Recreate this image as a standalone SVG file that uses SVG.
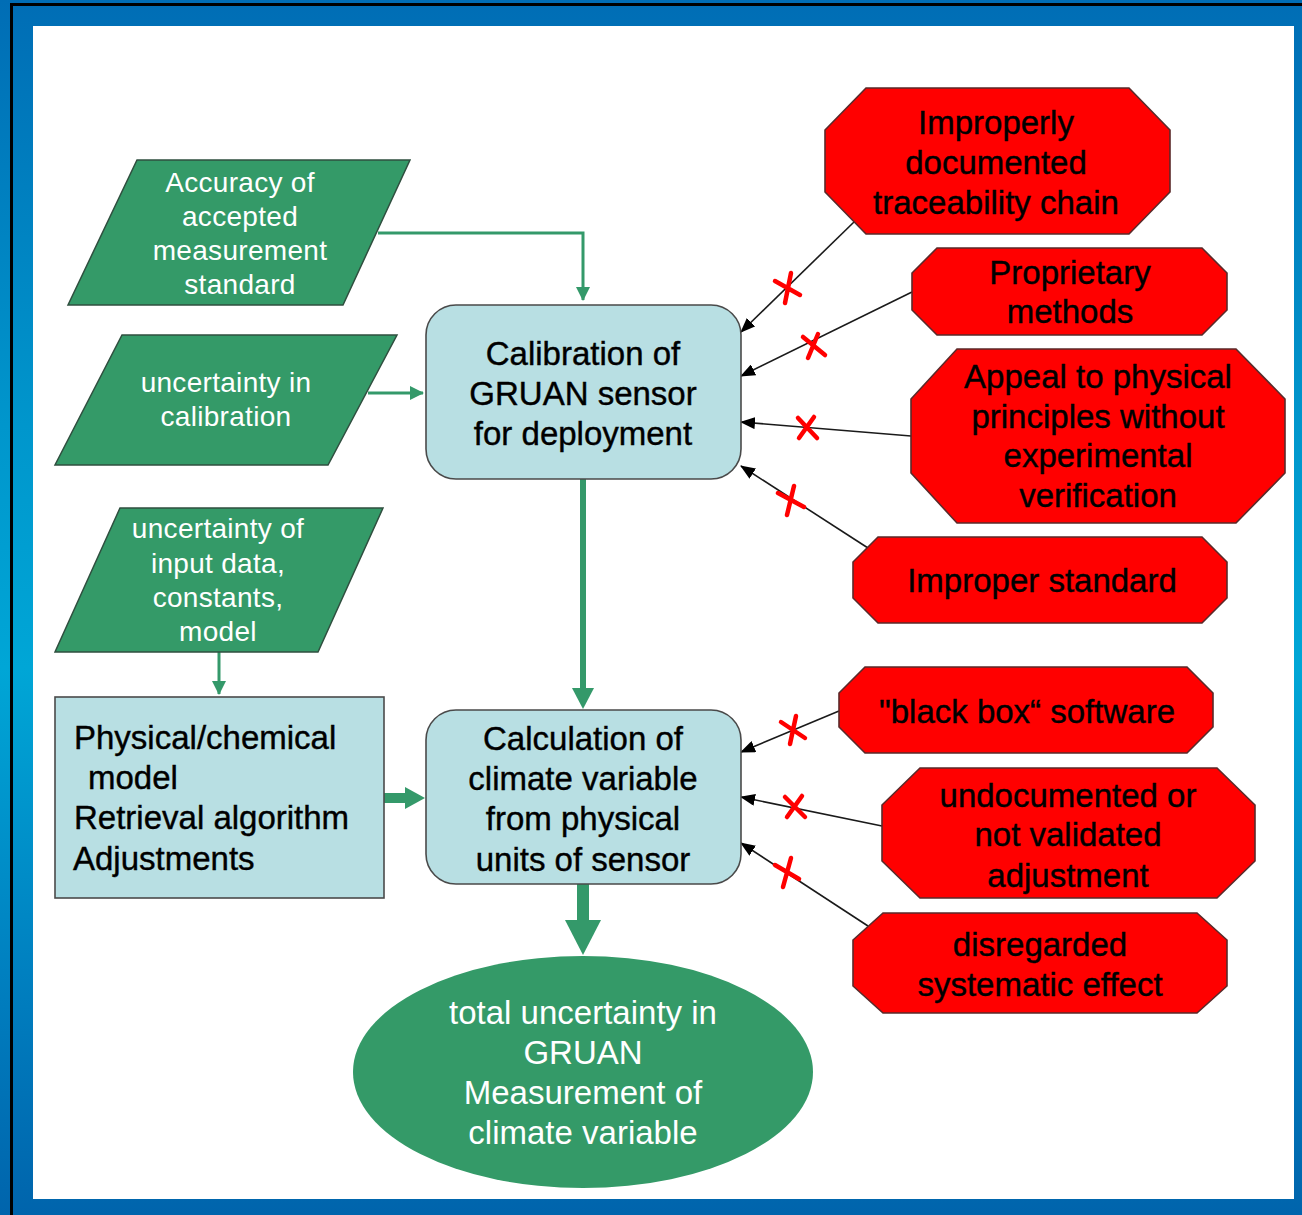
<svg xmlns="http://www.w3.org/2000/svg" width="1302" height="1215" viewBox="0 0 1302 1215">
<defs>
<linearGradient id="bg" x1="0" y1="0" x2="0" y2="1">
<stop offset="0" stop-color="#006db5"/>
<stop offset="0.35" stop-color="#0096cc"/>
<stop offset="0.55" stop-color="#00a6d6"/>
<stop offset="0.8" stop-color="#0080c0"/>
<stop offset="1" stop-color="#0064ac"/>
</linearGradient>
<marker id="ab" markerUnits="userSpaceOnUse" markerWidth="15" markerHeight="12" refX="14" refY="6" orient="auto">
<path d="M0,0 L15,6 L0,12 Z" fill="#000"/>
</marker>
<marker id="ag" markerUnits="userSpaceOnUse" markerWidth="14" markerHeight="14" refX="13" refY="7" orient="auto">
<path d="M0,0 L14,7 L0,14 Z" fill="#34996a"/>
</marker>
</defs>
<style>
.para{fill:#349a68;stroke:#2f4f3f;stroke-width:1.5}
.box{fill:#b8dfe3;stroke:#4a4a4a;stroke-width:1.6}
.oct{fill:#ff0000;stroke:#5a2a2a;stroke-width:1.6}
.wt{font-family:"Liberation Sans",Arial,sans-serif;font-size:28px;fill:#fff;text-anchor:middle;letter-spacing:0.3px}
.bt{font-family:"Liberation Sans",Arial,sans-serif;font-size:33px;fill:#000;stroke:#000;stroke-width:0.4;text-anchor:middle}
.bl{font-family:"Liberation Sans",Arial,sans-serif;font-size:33px;fill:#000;stroke:#000;stroke-width:0.4}
.et{font-family:"Liberation Sans",Arial,sans-serif;font-size:33px;fill:#fff;text-anchor:middle}
.gl{stroke:#34996a;stroke-width:3;fill:none}
.kl{stroke:#1a1a1a;stroke-width:1.6;fill:none}
.x{stroke:#ff0000;stroke-width:4.5;fill:none;stroke-linecap:round}
</style>
<rect x="0" y="0" width="1302" height="1215" fill="url(#bg)"/>
<rect x="10" y="3" width="1292" height="3" fill="#000"/>
<rect x="10" y="3" width="3" height="1212" fill="#000"/>
<rect x="33" y="26" width="1261" height="1173" fill="#fff"/>

<g id="connectors">
<polyline class="gl" points="378,233 583,233 583,300" marker-end="url(#ag)"/>
<line class="gl" x1="368" y1="393" x2="423" y2="393" marker-end="url(#ag)"/>
<line class="gl" x1="219" y1="652" x2="219" y2="694" marker-end="url(#ag)"/>
<line x1="583" y1="479" x2="583" y2="690" stroke="#34996a" stroke-width="6"/>
<polygon points="572,688 594,688 583,709" fill="#34996a"/>
<line x1="384" y1="798" x2="407" y2="798" stroke="#34996a" stroke-width="10"/>
<polygon points="405,787 425,798 405,809" fill="#34996a"/>
<line x1="583" y1="884" x2="583" y2="922" stroke="#34996a" stroke-width="12"/>
<polygon points="565,920 601,920 583,955" fill="#34996a"/>
<line class="kl" x1="854" y1="222" x2="741" y2="332" marker-end="url(#ab)"/>
<line class="kl" x1="912" y1="292" x2="741" y2="376" marker-end="url(#ab)"/>
<line class="kl" x1="911" y1="436" x2="741" y2="422" marker-end="url(#ab)"/>
<line class="kl" x1="868" y1="548" x2="741" y2="466" marker-end="url(#ab)"/>
<line class="kl" x1="839" y1="711" x2="741" y2="752" marker-end="url(#ab)"/>
<line class="kl" x1="882" y1="826" x2="741" y2="797" marker-end="url(#ab)"/>
<line class="kl" x1="868" y1="926" x2="741" y2="843" marker-end="url(#ab)"/>
<g id="crosses">
<path class="x" d="M775,281 L800,295 M785,303 L791,273"/>
<path class="x" d="M803,337 L825,355 M808,358 L818,334"/>
<path class="x" d="M798,418 L817,438 M799,438 L814,417"/>
<path class="x" d="M778,493 L804,507 M787,515 L794,486"/>
<path class="x" d="M781,722 L805,738 M790,744 L796,716"/>
<path class="x" d="M785,797 L805,817 M787,817 L802,796"/>
<path class="x" d="M775,865 L799,879 M783,887 L791,858"/>
</g>
</g>

<g id="accuracy">
<polygon class="para" points="137,160 410,160 343,305 68,305"/>
<text class="wt" x="240" y="192">Accuracy of</text>
<text class="wt" x="240" y="226">accepted</text>
<text class="wt" x="240" y="260">measurement</text>
<text class="wt" x="240" y="294">standard</text>
</g>
<g id="unc-calibration">
<polygon class="para" points="122,335 397,335 328,465 55,465"/>
<text class="wt" x="226" y="392">uncertainty in</text>
<text class="wt" x="226" y="426">calibration</text>
</g>
<g id="unc-input">
<polygon class="para" points="120,508 383,508 318,652 55,652"/>
<text class="wt" x="218" y="538">uncertainty of</text>
<text class="wt" x="218" y="573">input data,</text>
<text class="wt" x="218" y="607">constants,</text>
<text class="wt" x="218" y="641">model</text>
</g>
<g id="physical">
<rect class="box" x="55" y="697" width="329" height="201"/>
<text class="bl" x="74" y="749">Physical/chemical</text>
<text class="bl" x="88" y="789">model</text>
<text class="bl" x="74" y="829">Retrieval algorithm</text>
<text class="bl" x="73" y="870">Adjustments</text>
</g>
<g id="calibration">
<rect class="box" x="426" y="305" width="315" height="174" rx="30"/>
<text class="bt" x="583" y="365">Calibration of</text>
<text class="bt" x="583" y="405">GRUAN sensor</text>
<text class="bt" x="583" y="445">for deployment</text>
</g>
<g id="calculation">
<rect class="box" x="426" y="710" width="315" height="174" rx="30"/>
<text class="bt" x="583" y="750">Calculation of</text>
<text class="bt" x="583" y="790">climate variable</text>
<text class="bt" x="583" y="830">from physical</text>
<text class="bt" x="583" y="871">units of sensor</text>
</g>
<g id="total">
<ellipse cx="583" cy="1072" rx="230" ry="116" fill="#349a68"/>
<text class="et" x="583" y="1024">total uncertainty in</text>
<text class="et" x="583" y="1064">GRUAN</text>
<text class="et" x="583" y="1104">Measurement of</text>
<text class="et" x="583" y="1144">climate variable</text>
</g>
<g id="traceability">
<polygon class="oct" points="866,88 1129,88 1170,130 1170,192 1129,234 866,234 825,192 825,130"/>
<text class="bt" x="996" y="134">Improperly</text>
<text class="bt" x="996" y="174">documented</text>
<text class="bt" x="996" y="214">traceability chain</text>
</g>
<g id="proprietary">
<polygon class="oct" points="937,248 1202,248 1227,273 1227,310 1202,335 937,335 912,310 912,273"/>
<text class="bt" x="1070" y="284">Proprietary</text>
<text class="bt" x="1070" y="323">methods</text>
</g>
<g id="appeal">
<polygon class="oct" points="957,349 1236,349 1285,399 1285,473 1236,523 957,523 911,473 911,399"/>
<text class="bt" x="1098" y="388">Appeal to physical</text>
<text class="bt" x="1098" y="428">principles without</text>
<text class="bt" x="1098" y="467">experimental</text>
<text class="bt" x="1098" y="507">verification</text>
</g>
<g id="improper-standard">
<polygon class="oct" points="878,537 1202,537 1227,562 1227,598 1202,623 878,623 853,598 853,562"/>
<text class="bt" x="1042" y="592">Improper standard</text>
</g>
<g id="black-box">
<polygon class="oct" points="865,667 1187,667 1213,693 1213,727 1187,753 865,753 839,727 839,693"/>
<text class="bt" x="1027" y="723">"black box“ software</text>
</g>
<g id="undocumented">
<polygon class="oct" points="920,768 1217,768 1255,805 1255,861 1217,898 920,898 882,861 882,805"/>
<text class="bt" x="1068" y="807">undocumented or</text>
<text class="bt" x="1068" y="846">not validated</text>
<text class="bt" x="1068" y="887">adjustment</text>
</g>
<g id="disregarded">
<polygon class="oct" points="883,913 1197,913 1227,940 1227,986 1197,1013 883,1013 853,986 853,940"/>
<text class="bt" x="1040" y="956">disregarded</text>
<text class="bt" x="1040" y="996">systematic effect</text>
</g>
</svg>
